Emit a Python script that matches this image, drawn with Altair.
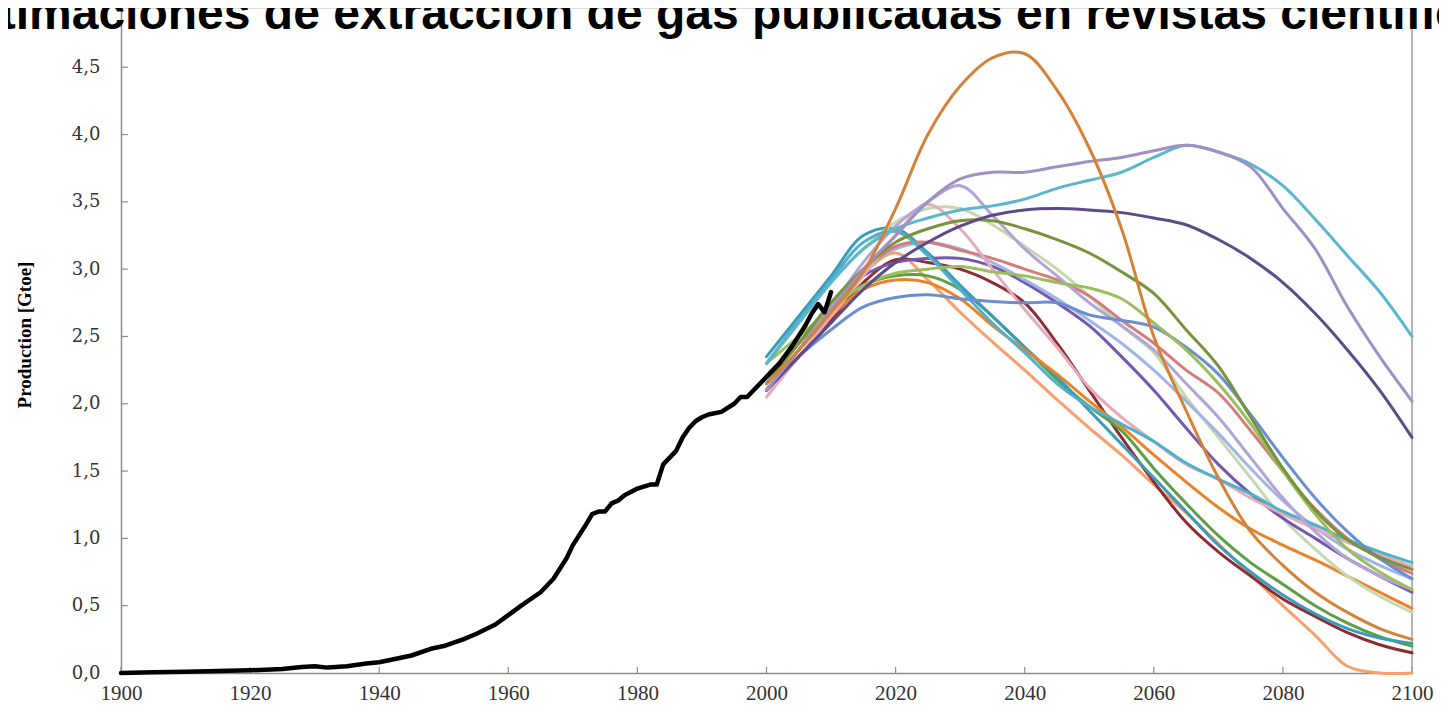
import altair as alt
import pandas as pd

TITLE = "Estimaciones de extracción de gas publicadas en revistas científicas"
Y_TITLE = "Production [Gtoe]"

HIST_YEARS = [1900, 1905, 1910, 1915, 1920, 1925, 1928, 1930, 1932, 1935, 1938, 1940, 1943, 1945,
              1948, 1950, 1953, 1955, 1958, 1960, 1962, 1965, 1967, 1969, 1970, 1972, 1973, 1974,
              1975, 1976, 1977, 1978, 1980, 1982, 1983, 1984, 1985, 1986, 1987, 1988, 1989, 1990,
              1991, 1993, 1995, 1996, 1997, 1998, 2000, 2002, 2004, 2006, 2007, 2008, 2009, 2010]
HIST_VALUES = [0.0, 0.005, 0.01, 0.015, 0.02, 0.03, 0.045, 0.05, 0.04, 0.05, 0.07, 0.08, 0.11, 0.13,
               0.18, 0.2, 0.25, 0.29, 0.36, 0.43, 0.5, 0.6, 0.7, 0.85, 0.95, 1.1, 1.18, 1.2,
               1.2, 1.26, 1.28, 1.32, 1.37, 1.4, 1.4, 1.55, 1.6, 1.65, 1.75, 1.82, 1.87, 1.9,
               1.92, 1.94, 2.0, 2.05, 2.05, 2.1, 2.2, 2.3, 2.43, 2.58, 2.67, 2.74, 2.68, 2.83]

PROJ_YEARS = [2000, 2005, 2010, 2015, 2020, 2025, 2030, 2035, 2040, 2045, 2050,
              2055, 2060, 2065, 2070, 2075, 2080, 2085, 2090, 2095, 2100]

orange_peak = [2.15, 2.4, 2.68, 2.98, 3.45, 4.0, 4.36, 4.57, 4.6, 4.33, 3.9,
               3.3, 2.5, 1.95, 1.45, 1.05, 0.8, 0.6, 0.45, 0.33, 0.25]
lavender_high = [2.1, 2.4, 2.7, 3.0, 3.25, 3.5, 3.67, 3.72, 3.72, 3.76, 3.8,
                 3.83, 3.88, 3.92, 3.87, 3.76, 3.45, 3.15, 2.72, 2.35, 2.02]
cyan_high = [2.3, 2.6, 2.9, 3.15, 3.3, 3.38, 3.44, 3.47, 3.52, 3.6, 3.66,
             3.72, 3.83, 3.92, 3.87, 3.78, 3.62, 3.37, 3.1, 2.83, 2.5]
dark_purple = [2.1, 2.35, 2.6, 2.85, 3.05, 3.2, 3.32, 3.4, 3.44, 3.45, 3.44,
               3.42, 3.38, 3.33, 3.22, 3.08, 2.9, 2.67, 2.4, 2.1, 1.75]
olive = [2.15, 2.45, 2.75, 3.0, 3.2, 3.3, 3.36, 3.36, 3.3, 3.22, 3.12,
         2.98, 2.82, 2.55, 2.28, 1.9, 1.52, 1.21, 0.99, 0.86, 0.77]
light_green = [2.3, 2.5, 2.7, 2.88, 2.97, 3.0, 3.02, 2.98, 2.95, 2.9, 2.86,
               2.78, 2.6, 2.4, 2.15, 1.85, 1.5, 1.18, 0.92, 0.75, 0.62]
steel_blue = [2.1, 2.35, 2.55, 2.72, 2.79, 2.81, 2.78, 2.76, 2.75, 2.75, 2.66,
              2.62, 2.57, 2.42, 2.22, 1.92, 1.6, 1.3, 1.05, 0.85, 0.7]
dark_red = [2.1, 2.35, 2.62, 2.9, 3.07, 3.05, 3.0, 2.9, 2.75, 2.45, 2.1,
            1.75, 1.42, 1.12, 0.9, 0.72, 0.55, 0.42, 0.3, 0.21, 0.15]
salmon = [2.1, 2.4, 2.7, 2.97, 3.12, 2.92, 2.68, 2.46, 2.25, 2.03, 1.82,
          1.62, 1.4, 1.19, 0.96, 0.73, 0.5, 0.28, 0.05, 0.0, 0.0]
bright_orange = [2.1, 2.4, 2.65, 2.85, 2.92, 2.9, 2.78, 2.58, 2.4, 2.22, 2.02,
                 1.83, 1.62, 1.42, 1.23, 1.07, 0.95, 0.84, 0.72, 0.6, 0.48]
teal = [2.35, 2.65, 2.95, 3.25, 3.3, 3.12, 2.88, 2.65, 2.42, 2.2, 1.95,
        1.7, 1.45, 1.2, 0.95, 0.75, 0.58, 0.44, 0.33, 0.26, 0.22]
pink = [2.05, 2.35, 2.65, 2.95, 3.25, 3.48, 3.3, 3.0, 2.7, 2.42, 2.12,
        1.9, 1.72, 1.55, 1.44, 1.3, 1.18, 1.07, 0.97, 0.88, 0.79]
cyan_wiggle = [2.3, 2.62, 2.92, 3.2, 3.28, 3.1, 2.85, 2.6, 2.38, 2.15, 1.98,
               1.85, 1.72, 1.56, 1.44, 1.33, 1.2, 1.1, 0.99, 0.9, 0.82]
rose = [2.1, 2.4, 2.7, 2.98, 3.17, 3.2, 3.14, 3.08, 3.0, 2.92, 2.8,
        2.62, 2.45, 2.25, 2.08, 1.8, 1.5, 1.22, 1.0, 0.85, 0.74]
sage = [2.3, 2.6, 2.9, 3.15, 3.35, 3.45, 3.45, 3.33, 3.17, 3.0, 2.8,
        2.58, 2.38, 2.05, 1.75, 1.45, 1.15, 0.92, 0.72, 0.57, 0.45]
lilac = [2.1, 2.4, 2.72, 3.05, 3.32, 3.5, 3.62, 3.4, 3.15, 2.95, 2.75,
         2.58, 2.4, 2.15, 1.9, 1.6, 1.3, 1.05, 0.85, 0.72, 0.62]
blue_violet = [2.1, 2.4, 2.7, 2.95, 3.05, 3.08, 3.08, 3.02, 2.9, 2.75, 2.58,
               2.35, 2.1, 1.82, 1.55, 1.33, 1.15, 1.0, 0.85, 0.72, 0.6]
light_blue = [2.15, 2.45, 2.75, 3.0, 3.15, 3.2, 3.15, 3.05, 2.92, 2.78, 2.62,
              2.45, 2.25, 2.02, 1.78, 1.52, 1.28, 1.08, 0.92, 0.8, 0.7]
green_mid = [2.2, 2.45, 2.7, 2.88, 2.95, 2.95, 2.85, 2.65, 2.42, 2.18, 1.98,
             1.8, 1.52, 1.26, 1.02, 0.82, 0.66, 0.5, 0.37, 0.27, 0.2]

SERIES = [
    ("Salmon", salmon, "#F5A06E"),
    ("Dark red", dark_red, "#8C2D35"),
    ("Green", green_mid, "#5E9E45"),
    ("Teal", teal, "#3A9CB6"),
    ("Orange", bright_orange, "#E8832A"),
    ("Sage", sage, "#C6D8B0"),
    ("Blue violet", blue_violet, "#7458AE"),
    ("Light blue", light_blue, "#A0B6E2"),
    ("Rose", rose, "#D67C78"),
    ("Pink", pink, "#E6AAB8"),
    ("Cyan wiggle", cyan_wiggle, "#4EB0CB"),
    ("Lilac", lilac, "#B2A4D4"),
    ("Steel blue", steel_blue, "#6A8ED0"),
    ("Light green", light_green, "#9BBD5C"),
    ("Olive", olive, "#77943C"),
    ("Dark purple", dark_purple, "#5E4A88"),
    ("Cyan", cyan_high, "#5BB6CE"),
    ("Lavender", lavender_high, "#A08FC4"),
    ("Orange peak", orange_peak, "#D4823A"),
]

X_TICKS = [1900, 1920, 1940, 1960, 1980, 2000, 2020, 2040, 2060, 2080, 2100]
Y_TICKS = [0.0, 0.5, 1.0, 1.5, 2.0, 2.5, 3.0, 3.5, 4.0, 4.5]

rows = []
for name, vals, _ in SERIES:
    for yr, v in zip(PROJ_YEARS, vals):
        rows.append({"series": name, "year": yr, "value": v})
proj_df = pd.DataFrame(rows)
hist_df = pd.DataFrame({"year": HIST_YEARS, "value": HIST_VALUES})

W, H = 1291, 665
AXIS_GRAY = "#8C8C8C"

x_scale = alt.Scale(domain=[1900, 2100], nice=False, zero=False)
y_scale = alt.Scale(domain=[0, 4.94], nice=False, clamp=True)

x_axis = alt.Axis(values=X_TICKS, format="d", title=None, grid=False, ticks=False, tickSize=0,
                  labelFont="Liberation Serif", labelFontSize=21, labelColor="#333333",
                  labelFlush=False, labelPadding=9, domainColor=AXIS_GRAY, domainWidth=1.5)
y_axis = alt.Axis(values=Y_TICKS, title=None, grid=False, ticks=False, tickSize=0,
                  labelExpr="replace(format(datum.value, '.1f'), '.', ',')",
                  labelFont="DejaVu Serif", labelFontSize=18, labelColor="#333333",
                  labelFlush=False, labelPadding=21, domainColor=AXIS_GRAY, domainWidth=1.5)

proj = alt.Chart(proj_df).mark_line(strokeWidth=3, interpolate="catmull-rom",
                                    strokeCap="round", strokeJoin="round").encode(
    x=alt.X("year:Q", scale=x_scale, axis=x_axis),
    y=alt.Y("value:Q", scale=y_scale, axis=y_axis),
    color=alt.Color("series:N", scale=alt.Scale(domain=[s[0] for s in SERIES],
                                                range=[s[2] for s in SERIES]), legend=None),
    order=alt.Order("year:Q"),
)

hist = alt.Chart(hist_df).mark_line(strokeWidth=4.5, color="#000000",
                                    strokeCap="round", strokeJoin="round").encode(
    x=alt.X("year:Q", scale=x_scale),
    y=alt.Y("value:Q", scale=y_scale),
)

xt = alt.Chart(pd.DataFrame({"t": X_TICKS})).mark_rule(color=AXIS_GRAY, strokeWidth=1.2).encode(
    x=alt.X("t:Q", scale=x_scale), y=alt.value(H), y2=alt.value(H - 6))
yt = alt.Chart(pd.DataFrame({"t": Y_TICKS})).mark_rule(color=AXIS_GRAY, strokeWidth=1.2).encode(
    y=alt.Y("t:Q", scale=y_scale), x=alt.value(0), x2=alt.value(7))

right_border = alt.Chart(pd.DataFrame({"t": [0]})).mark_rule(color="#A0A0A0", strokeWidth=1.5).encode(
    x=alt.value(W), y=alt.value(0), y2=alt.value(H))

title = alt.Chart(pd.DataFrame({"t": [TITLE]})).mark_text(
    font="Liberation Sans", fontSize=48, fontWeight="bold", color="#000000",
    align="center", baseline="alphabetic").encode(
    text="t:N", x=alt.value(607), y=alt.value(21))

ytitle = alt.Chart(pd.DataFrame({"t": [Y_TITLE]})).mark_text(
    font="Liberation Serif", fontSize=19, fontWeight="bold", color="#000000",
    align="center", baseline="middle", angle=270).encode(
    text="t:N", x=alt.value(-96), y=alt.value(327))

chart = alt.layer(xt, yt, right_border, proj, hist, ytitle, title).properties(
    width=W, height=H,
    autosize=alt.AutoSizeParams(type="none"),
    padding={"left": 113, "top": 0, "right": 27, "bottom": 30},
).configure_view(stroke=None).configure(background="white")

chart.save("out.html", embed_options={"renderer": "svg", "actions": False})
